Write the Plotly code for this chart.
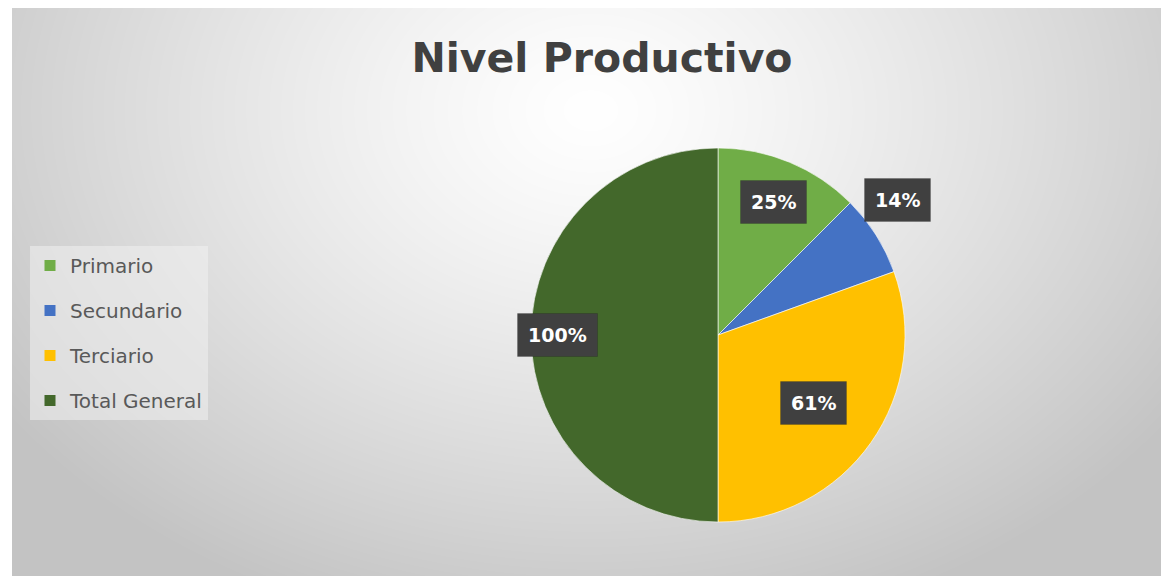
import base64
import struct
import zlib

import numpy as np
import plotly.graph_objects as go

# Nivel productivo data
categories = ["Primario", "Secundario", "Terciario", "Total General"]
values = [25, 14, 61, 100]
label_text = ["25%", "14%", "61%", "100%"]
colors = ["#70AD47", "#4472C4", "#FFC000", "#43682B"]

# the page puts the figure 8px in from the top-left corner
W, H = 1161, 568
# pie placement in figure pixels
cx, cy, R = 710, 327, 187
# radial offset of each data label (fraction of radius)
label_radius = [0.77, 1.35, 0.84, 0.86]


def gradient_png(w, h):
    """Radial grey gradient like the Excel chart area"""
    xs = np.arange(w)[None, :]
    ys = np.arange(h)[:, None]
    d = np.sqrt(((xs - w * 0.5) / (w * 0.62)) ** 2 + ((ys - h * 0.18) / (h * 0.95)) ** 2)
    d = np.clip(d, 0, 1)
    img = (255 - 60 * d ** 1.25).astype(np.uint8)
    raw = b"".join(b"\x00" + row.tobytes() for row in img)

    def chunk(tag, data):
        c = struct.pack(">I", len(data)) + tag + data
        return c + struct.pack(">I", zlib.crc32(tag + data) & 0xFFFFFFFF)

    png = b"\x89PNG\r\n\x1a\n"
    png += chunk(b"IHDR", struct.pack(">IIBBBBB", w, h, 8, 0, 0, 0, 0))
    png += chunk(b"IDAT", zlib.compress(raw, 9))
    png += chunk(b"IEND", b"")
    return "data:image/png;base64," + base64.b64encode(png).decode()


fig = go.Figure()

fig.add_trace(go.Pie(
    labels=categories,
    values=values,
    sort=False,
    direction="clockwise",
    rotation=0,
    marker=dict(colors=colors, line=dict(color="rgba(255,255,255,0.6)", width=1)),
    textinfo="none",
    showlegend=False,
    domain=dict(x=[(cx - R) / W, (cx + R) / W], y=[1 - (cy + R) / H, 1 - (cy - R) / H]),
    hovertemplate="%{label}: %{value}%<extra></extra>",
))

# legend entries (separate groups so the spacing can match)
for name, color in zip(categories, colors):
    fig.add_trace(go.Scatter(
        x=[None], y=[None], mode="markers", name=name, legendgroup=name,
        marker=dict(symbol="square", size=11, color=color),
    ))

# data labels in dark boxes
total = sum(values)
start = 0
for v, txt, f in zip(values, label_text, label_radius):
    mid = (start + v / 2) / total * 2 * np.pi
    start += v
    px = cx + f * R * np.sin(mid)
    py = cy - f * R * np.cos(mid)
    fig.add_annotation(
        x=px / W, y=1 - py / H, xref="paper", yref="paper",
        text=f"<b>{txt}</b>", showarrow=False,
        font=dict(family="DejaVu Sans", size=19, color="white"),
        bgcolor="#404040", borderpad=10,
        bordercolor="rgba(0,0,0,0.15)", borderwidth=1,
    )

fig.add_layout_image(dict(
    source=gradient_png(W - 4, H), xref="paper", yref="paper",
    x=4 / W, y=1, sizex=1 - 4 / W, sizey=1,
    sizing="stretch", xanchor="left", yanchor="top", layer="below",
))

fig.update_layout(
    width=W, height=H,
    margin=dict(l=0, r=0, t=0, b=0),
    paper_bgcolor="white",
    plot_bgcolor="rgba(0,0,0,0)",
    xaxis=dict(visible=False),
    yaxis=dict(visible=False),
    title=dict(text="<b>Nivel Productivo</b>", x=594 / W, xanchor="center", y=1 - 50 / H, yanchor="middle",
               font=dict(family="DejaVu Sans", size=41, color="#404040")),
    legend=dict(x=22 / W, y=1 - 238 / H, xanchor="left", yanchor="top",
                bgcolor="rgba(240,240,240,0.55)", font=dict(family="DejaVu Sans", size=20, color="#595959"),
                tracegroupgap=16, itemwidth=30),
)

fig.write_html("out.html")
